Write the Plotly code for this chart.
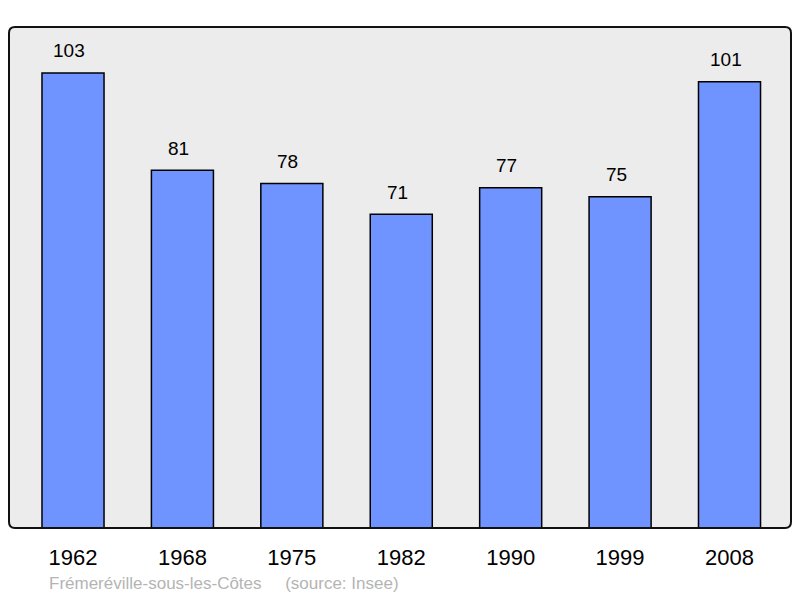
import plotly.graph_objects as go

years = ["1962", "1968", "1975", "1982", "1990", "1999", "2008"]
population = [103, 81, 78, 71, 77, 75, 101]
commune = "Frémeréville-sous-les-Côtes"
source = "(source: Insee)"

W, H = 800, 598
ml, mr, mt, mb = 9, 9, 27, 70
pw, ph = W - ml - mr, H - mt - mb

fig = go.Figure()
fig.add_trace(go.Bar(
    x=years, y=population, width=0.567,
    marker=dict(color="#7094ff", line=dict(color="#000000", width=1.5)),
    hoverinfo="skip",
))

for i, v in enumerate(population):
    fig.add_annotation(x=i, y=v, text=str(v), showarrow=False,
                       yanchor="middle", yshift=22, xshift=-4,
                       font=dict(family="Liberation Sans, Arial", size=19, color="#000000"))

fig.add_annotation(xref="paper", yref="paper", x=38 / pw, y=(528 - 583) / ph,
                   xanchor="left", yanchor="middle", showarrow=False,
                   text=commune + "&nbsp;&nbsp;&nbsp;&nbsp;&nbsp;" + source,
                   font=dict(family="Liberation Sans, Arial", size=17, color="#b4b4b4"))

# rounded frame
rx, ry = 6 / pw, 6 / ph
path = (f"M {rx},0 L {1-rx},0 Q 1,0 1,{ry} L 1,{1-ry} Q 1,1 {1-rx},1 "
        f"L {rx},1 Q 0,1 0,{1-ry} L 0,{ry} Q 0,0 {rx},0 Z")
fig.add_shape(type="path", path=path, xref="paper", yref="paper",
              fillcolor="#ececec", line=dict(width=0), layer="below")
fig.add_shape(type="path", path=path, xref="paper", yref="paper",
              fillcolor="rgba(0,0,0,0)", line=dict(color="#111111", width=2), layer="above")

fig.update_layout(
    width=W, height=H,
    margin=dict(l=ml, r=mr, t=mt, b=mb),
    paper_bgcolor="#ffffff", plot_bgcolor="rgba(0,0,0,0)",
    showlegend=False,
    xaxis=dict(type="category", range=[-0.585, 6.562], showgrid=False, zeroline=False,
               showline=False, ticks="", ticklabelstandoff=14,
               tickfont=dict(family="Liberation Sans, Arial", size=22, color="#000000")),
    yaxis=dict(range=[0, 113.4], visible=False, showgrid=False, zeroline=False),
)

fig.write_html("out.html", config={"displayModeBar": False},
               post_script="document.body.style.margin='0';")
